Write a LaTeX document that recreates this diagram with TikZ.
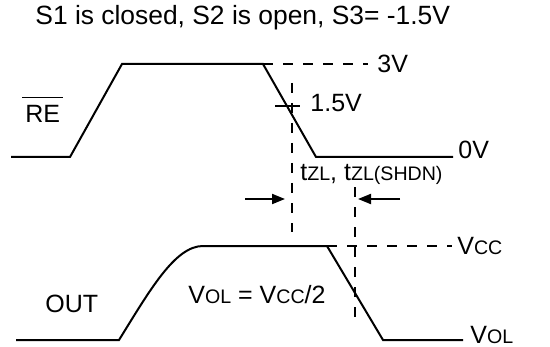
\documentclass[tikz,border=0pt]{standalone}
\usepackage{fontspec}
\setmainfont{Liberation Sans}
\usetikzlibrary{arrows.meta,positioning,calc}
\newcommand{\lo}[1]{{\fontsize{9.8}{11}\selectfont #1}}
\tikzset{
  wave/.style={line width=1pt, line join=miter},
  guide/.style={line width=1pt, dash pattern=on 5pt off 5pt},
  lbl/.style={inner sep=0pt, font=\fontsize{12.5}{15}\selectfont},
  titlelbl/.style={inner sep=0pt, font=\fontsize{13.2}{15}\selectfont},
  dimarrow/.style={line width=1pt, -{Triangle[length=6.5pt,width=5pt]}}
}
\begin{document}
\begin{tikzpicture}[x=0.5pt,y=-0.5pt]
  \useasboundingbox (0,0) rectangle (550,347);
  % title line
  \node[titlelbl, anchor=base west] (title) at (35,25) {S1 is closed, S2 is open, S3= -1.5V};

  % RE waveform corners
  \coordinate (ra) at (11,157);
  \coordinate (rb) at (70,157);
  \coordinate (rc) at (122,64);
  \coordinate (rd) at (263,64);
  \coordinate (re) at (316,157);
  \coordinate (rf) at (453,157);
  \draw[wave] (ra) -- (rb) -- (rc) -- (rd) -- (re) -- (rf);
  \coordinate (hi) at (368,64);
  \draw[guide] (rd) -- (hi);
  \node[lbl, anchor=west] (v3) at (377,64) {3V};
  \node[lbl, anchor=west] (v0) at (458,150) {0V};
  % RE label with its bar
  \node[lbl, anchor=west] (renode) at (25,113.5) {RE};
  \draw[line width=0.7pt] ([xshift=-1.5pt,yshift=3.5pt]renode.north west) -- ([xshift=1pt,yshift=3.5pt]renode.north east);

  % 1.5V crossing mark
  \coordinate (mk1) at (275,106);
  \coordinate (mk2) at (300,106);
  \draw[line width=1pt] (mk1) -- (mk2);
  \node[lbl, anchor=west] (v15) at (310,103) {1.5V};

  % vertical guides
  \coordinate (g1a) at (292,83);
  \coordinate (g1b) at (292,232);
  \coordinate (g2a) at (355,187);
  \coordinate (g2b) at (355,320);
  \draw[guide] (g1a) -- (g1b);
  \draw[guide] (g2a) -- (g2b);
  \node[lbl, anchor=base west] (tzl) at (300,181) {t\lo{ZL}, t\lo{ZL(SHDN)}};

  % timing arrows
  \coordinate (la) at (245,199);
  \coordinate (lt) at (285,199);
  \coordinate (rta) at (400,199);
  \coordinate (rtt) at (358,199);
  \draw[dimarrow] (la) -- (lt);
  \draw[dimarrow] (rta) -- (rtt);

  % OUT waveform corners
  \coordinate (oa) at (16,340);
  \coordinate (ob) at (119,340);
  \coordinate (oc) at (203,246);
  \coordinate (od) at (327,246);
  \coordinate (oe) at (383,340);
  \coordinate (of) at (463,340);
  \draw[wave] (oa) -- (ob) .. controls (150,290) and (175,246) .. (oc) -- (od) -- (oe) -- (of);
  \coordinate (vc) at (452,246);
  \draw[guide] (od) -- (vc);
  \node[lbl, anchor=west] (vcc) at (457,246) {V\lo{CC}};
  \node[lbl, anchor=west] (vol) at (470,335) {V\lo{OL}};
  \node[lbl, anchor=west] (outnode) at (45,304) {OUT};
  \node[lbl, anchor=base west] (half) at (188,303) {V\lo{OL} = V\lo{CC}/2};
\end{tikzpicture}
\end{document}
